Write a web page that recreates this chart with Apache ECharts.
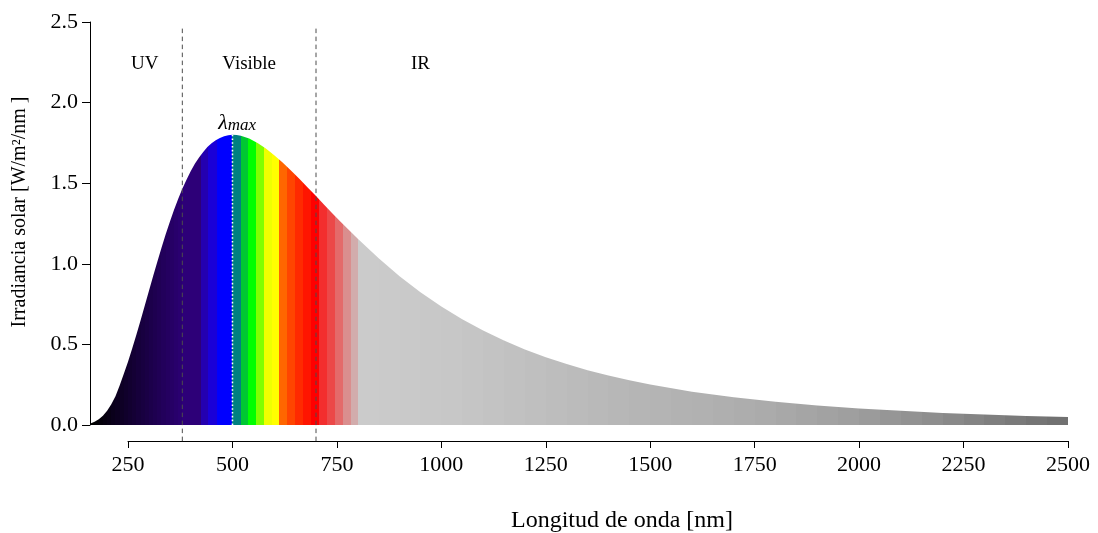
<!DOCTYPE html>
<html><head><meta charset="utf-8">
<script src="https://cdn.jsdelivr.net/npm/echarts@6/dist/echarts.min.js"></script>
<style>html,body{margin:0;padding:0;background:#fff}#c{width:1098px;height:533px}</style>
</head><body><div id="c"></div>
<script>
// ---- data ----
const wavelengths = [160,170,180,190,200,210,220,230,240,250,260,270,280,290,300,310,320,330,340,350,360,370,380,390,400,410,420,430,440,450,460,470,480,490,500,510,520,540,560,580,600,620,640,660,680,700,720,740,760,780,800,850,900,950,1000,1050,1100,1150,1200,1250,1300,1350,1400,1450,1500,1600,1700,1800,1900,2000,2100,2200,2300,2400,2500];
const irradiance = [0.010,0.020,0.036,0.058,0.088,0.128,0.178,0.245,0.318,0.393,0.474,0.560,0.649,0.740,0.831,0.922,1.011,1.098,1.181,1.259,1.333,1.402,1.465,1.522,1.574,1.620,1.660,1.694,1.724,1.748,1.767,1.781,1.792,1.798,1.800,1.799,1.794,1.777,1.750,1.715,1.674,1.628,1.579,1.527,1.474,1.420,1.365,1.311,1.258,1.206,1.155,1.034,0.923,0.824,0.735,0.656,0.586,0.524,0.469,0.421,0.378,0.340,0.307,0.278,0.251,0.207,0.172,0.144,0.121,0.103,0.088,0.075,0.065,0.056,0.049];
const xTickValues = [250,500,750,1000,1250,1500,1750,2000,2250,2500];
const yTickValues = [0.0,0.5,1.0,1.5,2.0,2.5];
const regionEdges = [380, 700];
const regionNames = ['UV','Visible','IR'];
const regionCenters = [290, 540, 950];
const peakWavelength = 500;
const peakIrradiance = 1.80;
const stripEdges = [160,170,180,190,200,210,220,230,240,250,260,270,280,290,300,310,320,330,340,350,360,370,
  380,425,442,462,500,520,538,556,575,594,612,631,649,669,688,708,727,746,764,784,
  801,850,900,950,1000,1050,1100,1150,1200,1250,1300,1350,1400,1450,1500,1550,1600,1650,1700,1750,1800,1850,1900,1950,2000,2050,2100,2150,2200,2250,2300,2350,2400,2450,2501];
const stripColors = ['#000000','#020005','#04000b','#060010','#080015','#0a001b','#0c0020','#0e0025','#10002b','#120030','#140035','#16003b','#180040','#1a0045','#1c004b','#1e0050','#200055','#22005b','#240060','#260065','#28006b','#2a0070',
  '#2d0078','#2400b0','#1a00d8','#0000ff','#008080','#00c832','#00ff00','#80ff00','#f0ff00','#ffff00','#ff6600','#ff4500','#ff2a00','#ff1500','#ff0000','#f32e2e','#ec4848','#e46a6a','#da8e8e','#d2acac',
  '#cbcbcb','#cacaca','#c9c9c9','#c8c8c8','#c7c7c7','#c5c5c5','#c3c3c3','#c1c1c1','#bfbfbf','#bdbdbd','#bbbbbb','#b9b9b9','#b7b7b7','#b5b5b5','#b4b4b4','#b2b2b2','#b1b1b1','#afafaf','#adadad','#ababab','#a8a8a8','#a5a5a5','#a2a2a2','#9f9f9f','#9b9b9b','#969696','#929292','#8e8e8e','#898989','#848484','#7f7f7f','#7a7a7a','#757575','#717171'];

// ---- chart ----
const serif = '"Liberation Serif","Times New Roman",serif';
const chart = echarts.init(document.getElementById('c'));
const seriesData = wavelengths.map((w, i) => [w, irradiance[i]]);
const pieces = stripColors.map((c, i) => ({gte: stripEdges[i], lt: stripEdges[i + 1], color: c}));

const edgeSeries = regionEdges.map(e => ({
  type: 'line', xAxisIndex: 0, yAxisIndex: 0, symbol: 'none', silent: true, clip: false, z: 5,
  data: [[e, -0.1], [e, 2.46]],
  lineStyle: {color: '#4d4d4d', width: 1, type: [4.5, 3.5]}
}));

const option = {
  animation: false,
  backgroundColor: '#fff',
  grid: [
    {left: 90, right: 30, top: 22, bottom: 108},
    {left: 128, right: 30, top: 440, height: 1}
  ],
  xAxis: [
    {type: 'value', gridIndex: 0, min: 159, max: 2500, show: false},
    {type: 'value', gridIndex: 1, min: xTickValues[0], max: xTickValues[xTickValues.length - 1],
     interval: xTickValues[1] - xTickValues[0], position: 'bottom',
     axisLine: {show: true, onZero: false, lineStyle: {color: '#000', width: 1}},
     axisTick: {show: true, length: 7, lineStyle: {color: '#000'}},
     axisLabel: {fontFamily: serif, fontSize: 22, color: '#000', margin: 13, formatter: v => String(v)},
     splitLine: {show: false}}
  ],
  yAxis: [
    {type: 'value', gridIndex: 0, min: yTickValues[0], max: yTickValues[yTickValues.length - 1],
     interval: yTickValues[1] - yTickValues[0],
     axisLine: {show: true, lineStyle: {color: '#000', width: 1}},
     axisTick: {show: true, length: 8, lineStyle: {color: '#000'}},
     axisLabel: {fontFamily: serif, fontSize: 22, color: '#000', margin: 12, formatter: v => v.toFixed(1)},
     splitLine: {show: false}},
    {type: 'value', gridIndex: 1, show: false}
  ],
  visualMap: {type: 'piecewise', show: false, dimension: 0, seriesIndex: 0, pieces: pieces, outOfRange: {color: '#cccccc'}},
  series: [
    {type: 'line', xAxisIndex: 0, yAxisIndex: 0, data: seriesData, symbol: 'none', silent: true, z: 2,
     lineStyle: {width: 0}, areaStyle: {opacity: 1}},
    ...edgeSeries,
    {type: 'line', xAxisIndex: 0, yAxisIndex: 0, symbol: 'none', silent: true, z: 6,
     data: [[peakWavelength, 0], [peakWavelength, peakIrradiance]],
     lineStyle: {color: '#ffffff', width: 1.6, type: [1.6, 2.2]}},
    {type: 'scatter', xAxisIndex: 0, yAxisIndex: 0, symbolSize: 0, silent: true, z: 7,
     itemStyle: {opacity: 1},
     data: regionNames.map((n, i) => ({name: n, value: [regionCenters[i], 2.24]})),
     label: {show: true, position: 'inside', formatter: '{b}', fontFamily: serif, fontSize: 19, color: '#000', opacity: 1}},
    {type: 'scatter', xAxisIndex: 0, yAxisIndex: 0, symbolSize: 0, silent: true, z: 7,
     itemStyle: {opacity: 1},
     data: [{name: 'lmax', value: [peakWavelength + 11, 1.88]}],
     label: {show: true, position: 'inside', formatter: '{l|λ}{s|max}', color: '#000', opacity: 1,
       rich: {
         l: {fontFamily: serif, fontStyle: 'italic', fontSize: 22, lineHeight: 24, verticalAlign: 'bottom', color: '#000'},
         s: {fontFamily: serif, fontStyle: 'italic', fontSize: 17, lineHeight: 17, verticalAlign: 'bottom', color: '#000'}
       }}}
  ],
  graphic: [
    {type: 'text', style: {text: 'Longitud de onda [nm]', x: 622, y: 521, textAlign: 'center', textVerticalAlign: 'middle',
      font: '24px ' + serif, fill: '#000'}},
    {type: 'text', x: 20, y: 212, rotation: Math.PI / 2,
     style: {text: 'Irradiancia solar [W/m²/nm ]', x: 0, y: 0, textAlign: 'center', textVerticalAlign: 'middle',
      font: '20px ' + serif, fill: '#000'}}
  ]
};
chart.setOption(option);
</script>
</body></html>
